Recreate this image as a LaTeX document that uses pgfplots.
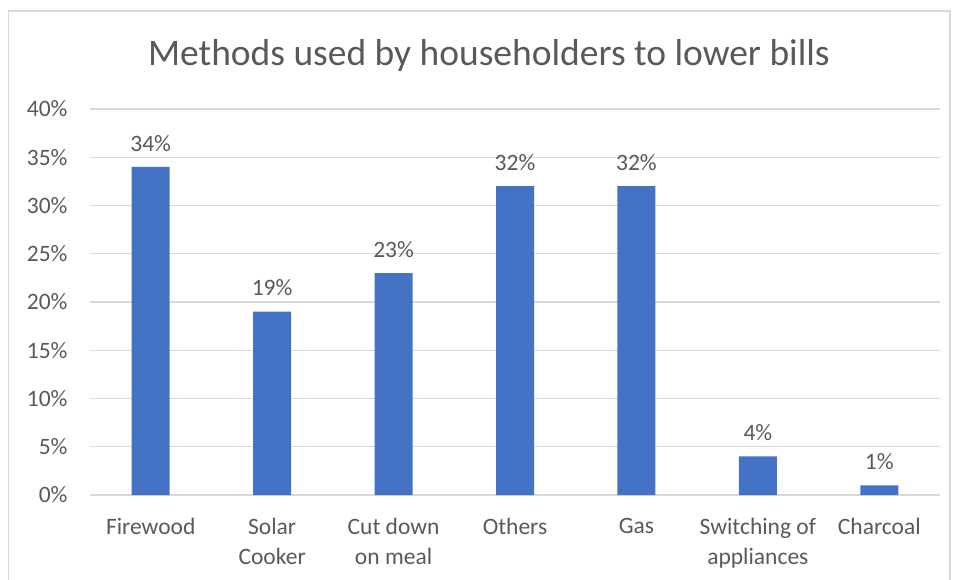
\documentclass[border=0pt]{standalone}
\usepackage{pgfplots}
\pgfplotsset{compat=1.18}
\usepackage{fontspec}
\setmainfont{Carlito}
\definecolor{txt}{HTML}{595959}
\definecolor{gridc}{HTML}{D9D9D9}
\definecolor{barc}{HTML}{4472C4}
\begin{document}
\begin{tikzpicture}[x=1pt,y=1pt]
\path[use as bounding box] (0,0) rectangle (958,579);
\draw[gridc, line width=1.2pt] (8.5,-5) rectangle (950,568);
\node[text=txt, font=\fontsize{37.5}{44}\selectfont] at (489,523) {Methods used by householders to lower bills};
\begin{axis}[
  at={(90pt,84pt)}, anchor=south west,
  scale only axis, width=850pt, height=386pt,
  ybar, bar width=38pt,
  xmin=-0.5, xmax=6.5, ymin=0, ymax=40,
  ytick={0,5,...,40},
  yticklabel={\pgfmathprintnumber{\tick}\%},
  /pgf/number format/assume math mode=true,
  ymajorgrids, grid style={gridc, line width=1.2pt},
  axis line style={draw=none}, tick style={draw=none},
  xtick=data,
  xticklabels={Firewood,{Solar\\Cooker},{Cut down\\on meal},Others,Gas,{Switching of\\appliances},Charcoal},
  xticklabel style={align=center, text=txt, font=\fontsize{23.5}{30}\selectfont, anchor=north, yshift=-15pt},
  yticklabel style={text=txt, font=\fontsize{23.5}{28}\selectfont, xshift=-19pt},
  nodes near coords={\pgfmathprintnumber{\pgfplotspointmeta}\%},
  nodes near coords style={text=txt, font=\fontsize{23.5}{28}\selectfont, yshift=12pt},
  clip=false,
]
\addplot[fill=barc, draw=none] coordinates {(0,34) (1,19) (2,23) (3,32) (4,32) (5,4) (6,1)};
\end{axis}
\end{tikzpicture}
\end{document}
